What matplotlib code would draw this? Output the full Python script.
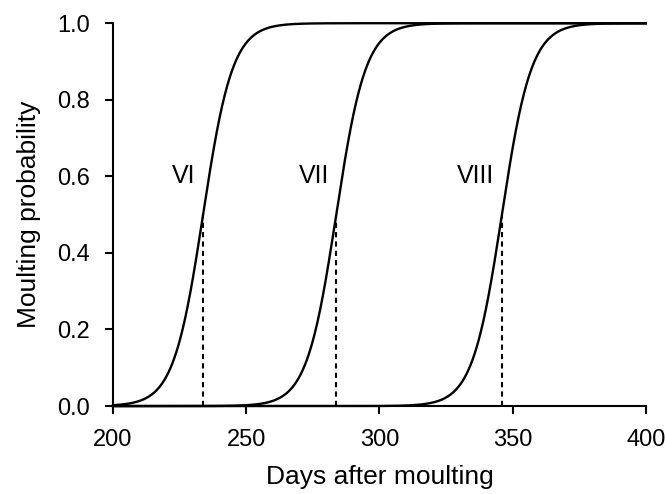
import numpy as np
import matplotlib.pyplot as plt

plt.rcParams['font.family'] = ['Liberation Sans', 'DejaVu Sans']

# Fitted logistic moulting curves for instars VI-VIII
instars = ['VI', 'VII', 'VIII']
midpoints = [233.8, 283.8, 346.0]   # day of 50 % moulting probability
slopes = [0.18, 0.18, 0.18]         # logistic rate (per day)
label_x = [226.5, 275.5, 336.0]
label_y = [0.6, 0.6, 0.6]

days = np.linspace(200, 400, 801)

fig = plt.figure(figsize=(6.65, 4.94), dpi=100)
ax = fig.add_axes([0.170, 0.178, 0.801, 0.775])

for name, m, k, lx, ly in zip(instars, midpoints, slopes, label_x, label_y):
    p = 1.0 / (1.0 + np.exp(-k * (days - m)))
    ax.plot(days, p, color='black', lw=1.7, clip_on=False, zorder=3)
    ax.plot([m, m], [0, 0.5], color='black', lw=1.5, ls=(0, (2.5, 2)), zorder=2)
    ax.text(lx, ly, name, fontsize=18, ha='center', va='center')

ax.set_xlim(200, 400)
ax.set_ylim(0, 1)
ax.set_xticks([200, 250, 300, 350, 400])
ax.set_yticks([0.0, 0.2, 0.4, 0.6, 0.8, 1.0])
ax.set_yticklabels([f'{v:.1f}' for v in [0.0, 0.2, 0.4, 0.6, 0.8, 1.0]])

for side in ['top', 'right']:
    ax.spines[side].set_visible(False)
for side in ['left', 'bottom']:
    ax.spines[side].set_linewidth(1.5)

ax.tick_params(direction='out', length=6, width=1.5, labelsize=17, pad=10.5)
ax.set_xlabel('Days after moulting', fontsize=19, labelpad=10)
ax.set_ylabel('Moulting probability', fontsize=19, labelpad=12)

fig.savefig('out.png', dpi=100)
